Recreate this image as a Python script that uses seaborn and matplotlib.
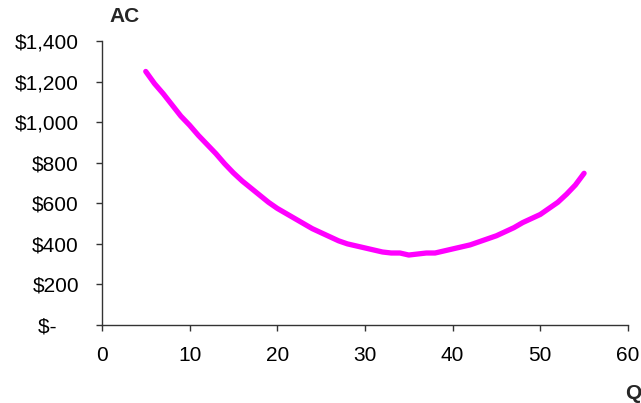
import seaborn as sns
import pandas as pd
import matplotlib.pyplot as plt

# Quantity and average cost
quantity = list(range(5, 56))
avg_cost = [1250, 1190, 1140, 1085, 1030, 985, 935, 890, 845, 795,
            750, 710, 675, 640, 605, 575, 550, 525, 500, 475,
            455, 435, 415, 400, 390, 380, 370, 360, 355, 355,
            345, 350, 355, 355, 365, 375, 385, 395, 410, 425,
            440, 460, 480, 505, 525, 545, 575, 605, 645, 690, 748]

y_ticks = [0, 200, 400, 600, 800, 1000, 1200, 1400]
y_labels = ["$-    ", "$200", "$400", "$600", "$800", "$1,000", "$1,200", "$1,400"]
x_ticks = [0, 10, 20, 30, 40, 50, 60]

sns.set_style("ticks")
plt.rcParams['font.family'] = ['Liberation Sans', 'DejaVu Sans']

data = pd.DataFrame({"Q": quantity, "AC": avg_cost})

fig = plt.figure(figsize=(6.41, 4.03), dpi=100)
ax = fig.add_axes([0.159, 0.1935, 0.8206, 0.7047])

sns.lineplot(data=data, x="Q", y="AC", color="#FF00FF", linewidth=3.8, ax=ax,
             solid_capstyle="round", solid_joinstyle="round")

ax.set_xlim(0, 60)
ax.set_ylim(0, 1400)
ax.set_xticks(x_ticks)
ax.set_yticks(y_ticks)
ax.set_yticklabels(y_labels)
ax.set_xlabel("")
ax.set_ylabel("")

sns.despine(ax=ax)
for side in ["left", "bottom"]:
    ax.spines[side].set_color("#333333")
    ax.spines[side].set_linewidth(1.0)
ax.tick_params(axis="both", direction="out", length=4, width=1, color="#333333",
               labelsize=15, labelcolor="black")
ax.tick_params(axis="y", pad=12.5)
ax.tick_params(axis="x", pad=11)

# axis titles in the corners
fig.text(125 / 641, 1 - 16.5 / 403, "AC", ha="center", va="center",
         fontsize=15, fontweight="bold")
fig.text(633 / 641, 1 - 393.5 / 403, "Q", ha="center", va="center",
         fontsize=15, fontweight="bold")

fig.savefig("out.png", dpi=100)
